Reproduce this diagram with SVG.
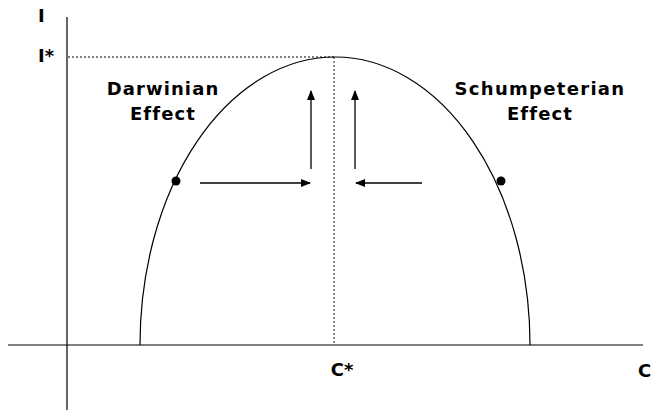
<svg xmlns="http://www.w3.org/2000/svg" width="653" height="418" viewBox="0 0 653 418">
<style>
.ax{stroke:#000;stroke-width:1.2;fill:none}
.dot{stroke:#555;stroke-width:1.3;stroke-dasharray:2,2;fill:none}
.arr{stroke:#000;stroke-width:1.3;fill:none;marker-end:url(#ah)}
text{font-family:"DejaVu Sans","Liberation Sans",sans-serif;font-weight:bold;font-size:18px;fill:#000}
.lab{letter-spacing:1.1px}
.lab2{letter-spacing:1.3px}
</style>
<defs>
<marker id="ah" markerWidth="10" markerHeight="8" refX="9" refY="4" orient="auto" markerUnits="userSpaceOnUse">
<path d="M0,0 L10,4 L0,8 Z" fill="#000"/>
</marker>
</defs>
<rect width="653" height="418" fill="#fff"/>
<g id="axes">
<line class="ax" x1="67" y1="17" x2="67" y2="410"/>
<line class="ax" x1="8" y1="345" x2="643" y2="345"/>
</g>
<g id="guides">
<line class="dot" x1="68" y1="57" x2="334" y2="57"/>
<line class="dot" x1="334" y1="57" x2="334" y2="344"/>
</g>
<g id="curve">
<path class="ax" d="M140,345 A195,288 0 0 1 530,345"/>
</g>
<g id="points">
<circle cx="176" cy="181" r="4.5" fill="#000"/>
<circle cx="501" cy="181" r="4.5" fill="#000"/>
</g>
<g id="connectors">
<line class="arr" x1="200" y1="183" x2="310" y2="183"/>
<line class="arr" x1="422" y1="183" x2="356" y2="183"/>
<line class="arr" x1="311" y1="169" x2="311" y2="91"/>
<line class="arr" x1="355" y1="169" x2="355" y2="91"/>
</g>
<g id="labels">
<text x="38" y="22">I</text>
<text x="38" y="62">I*</text>
<text x="342" y="376" text-anchor="middle">C*</text>
<text x="638" y="377">C</text>
<text class="lab" x="163" y="95" text-anchor="middle">Darwinian</text>
<text class="lab" x="163" y="120" text-anchor="middle">Effect</text>
<text class="lab2" x="540" y="95" text-anchor="middle">Schumpeterian</text>
<text class="lab" x="540" y="120" text-anchor="middle">Effect</text>
</g>
</svg>
